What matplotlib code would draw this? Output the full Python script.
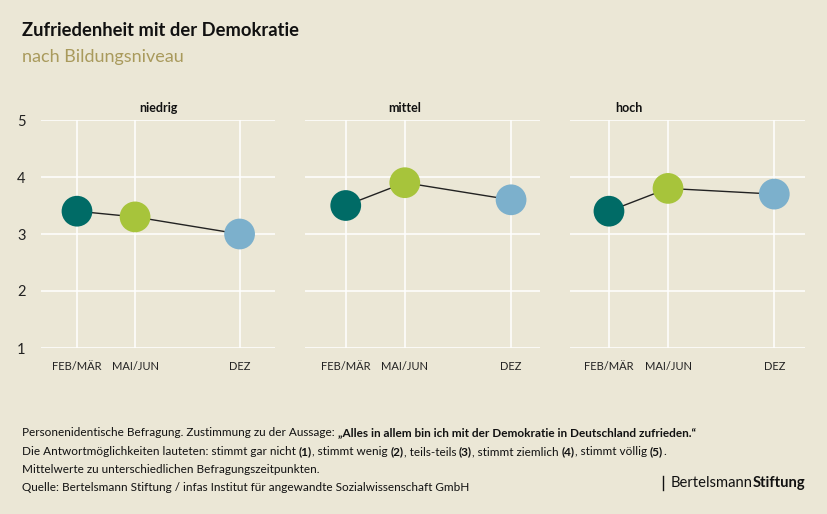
import matplotlib
matplotlib.use("Agg")
import matplotlib.pyplot as plt

# data
groups = ["niedrig", "mittel", "hoch"]
zeitpunkte = ["FEB/MÄR", "MAI/JUN", "DEZ"]
x_pos = [0, 1, 2.8]
werte_niedrig = [3.4, 3.3, 3.0]
werte_mittel = [3.5, 3.9, 3.6]
werte_hoch = [3.4, 3.8, 3.7]
werte = [werte_niedrig, werte_mittel, werte_hoch]
farben = ["#006b66", "#a7c43b", "#7cb0cc"]

bg = "#ebe7d6"
plt.rcParams["font.family"] = ["Lato", "DejaVu Sans"]

W, H = 828, 514
fig = plt.figure(figsize=(W / 100, H / 100), dpi=100, facecolor=bg)

# panel pixel boxes (left, right) and x limits
boxes = [(41, 275), (305, 540), (570, 805)]
xlims = [(-0.62, 3.41), (-0.69, 3.29), (-0.66, 3.32)]
top, bottom = 120, 348
title_x = [158, 405, 629]

for i, (l, r) in enumerate(boxes):
    ax = fig.add_axes([l / W, (H - bottom) / H, (r - l) / W, (bottom - top) / H])
    ax.set_facecolor(bg)
    ax.set_xlim(*xlims[i])
    ax.set_ylim(1, 5)
    ax.set_yticks([1, 2, 3, 4, 5])
    ax.set_xticks(x_pos)
    ax.set_xticklabels(zeitpunkte)
    ax.grid(color="white", linewidth=1.1)
    ax.set_axisbelow(True)
    for s in ax.spines.values():
        s.set_visible(False)
    ax.tick_params(length=0, labelsize=8, colors="#222222")
    ax.tick_params(axis="x", pad=9)
    ax.tick_params(axis="y", labelsize=10.5, pad=11)
    if i > 0:
        ax.set_yticklabels([])
    ax.plot(x_pos, werte[i], color="#222222", linewidth=1, zorder=2)
    ax.scatter(x_pos, werte[i], s=490, c=farben, zorder=3, linewidths=0, clip_on=False)
    fig.text(title_x[i] / W, 1 - 108 / H, groups[i], ha="center", va="center",
             fontsize=9, fontweight="bold", color="#111111")

fig.text(22 / W, 1 - 31 / H, "Zufriedenheit mit der Demokratie", fontsize=13.2,
         fontweight="bold", color="#111111", va="center")
fig.text(22 / W, 1 - 57 / H, "nach Bildungsniveau", fontsize=13,
         color="#a99a5c", va="center")

fs = 8.5
y1 = 1 - 436 / H
t = fig.text(22 / W, y1, "Personenidentische Befragung. Zustimmung zu der Aussage: ",
             fontsize=fs, color="#111111", va="baseline")
fig.canvas.draw()
bb = t.get_window_extent()
fig.text(bb.x1 / W, y1, "„Alles in allem bin ich mit der Demokratie in Deutschland zufrieden.“",
         fontsize=fs, fontweight="bold", color="#111111", va="baseline")

# line 2 with bold numbers
parts = [("Die Antwortmöglichkeiten lauteten: stimmt gar nicht ", False), ("(1)", True),
         (", stimmt wenig ", False), ("(2)", True), (", teils-teils ", False), ("(3)", True),
         (", stimmt ziemlich ", False), ("(4)", True), (", stimmt völlig ", False), ("(5)", True),
         (".", False)]
xcur = 22
y2 = 1 - 455 / H
for txt, b in parts:
    tt = fig.text(xcur / W, y2, txt, fontsize=fs, color="#111111", va="baseline",
                  fontweight="bold" if b else "normal")
    fig.canvas.draw()
    xcur = tt.get_window_extent().x1

fig.text(22 / W, 1 - 473 / H, "Mittelwerte zu unterschiedlichen Befragungszeitpunkten.",
         fontsize=fs, color="#111111", va="baseline")
fig.text(22 / W, 1 - 491 / H,
         "Quelle: Bertelsmann Stiftung / infas Institut für angewandte Sozialwissenschaft GmbH",
         fontsize=fs, color="#111111", va="baseline")

# logo
fig.add_artist(plt.Line2D([663 / W, 663 / W], [1 - 490 / H, 1 - 476 / H],
                          color="#111111", linewidth=1, transform=fig.transFigure))
lt = fig.text(671 / W, 1 - 483 / H, "Bertelsmann", fontsize=10.6, color="#111111", va="center")
fig.canvas.draw()
fig.text(lt.get_window_extent().x1 / W, 1 - 483 / H, "Stiftung", fontsize=10.6,
         fontweight="bold", color="#111111", va="center")

fig.savefig("out.png", dpi=100, facecolor=bg)
